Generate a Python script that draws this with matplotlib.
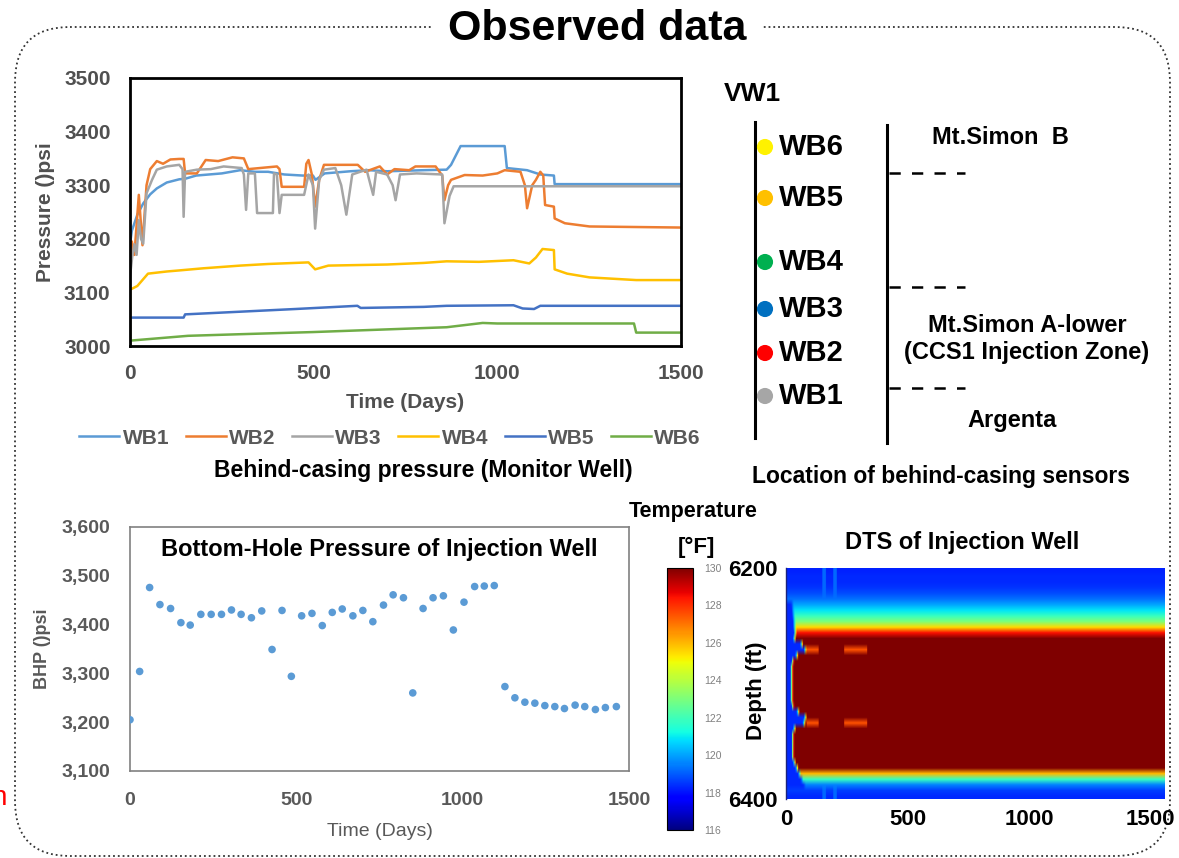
import matplotlib
matplotlib.use("Agg")
import matplotlib.pyplot as plt
import numpy as np
from matplotlib.patches import FancyBboxPatch
from matplotlib.ticker import StrMethodFormatter

plt.rcParams["font.family"] = ["Liberation Sans", "DejaVu Sans"]

# ---------------- behind-casing pressure (monitor well) ----------------
wb1_days = [0, 5, 20, 36, 55, 73, 100, 134, 150, 180, 250, 300, 340, 376, 420, 470, 498, 505,
            530, 600, 650, 700, 800, 862, 874, 900, 1020, 1026, 1081, 1117, 1154, 1156, 1500]
wb1_psi = [3190, 3215, 3245, 3266, 3283, 3294, 3305, 3311, 3312, 3318, 3322, 3328, 3325, 3325,
           3320, 3318, 3318, 3310, 3322, 3326, 3328, 3326, 3328, 3329, 3338, 3373, 3373, 3332,
           3328, 3320, 3318, 3302, 3302]

wb2_days = [0, 5, 12, 24, 34, 45, 55, 73, 90, 110, 134, 146, 150, 182, 206, 240, 279, 310, 322,
            400, 407, 413, 474, 480, 486, 495, 504, 515, 528, 620, 640, 680, 700, 720, 760, 777,
            832, 850, 856, 866, 874, 911, 960, 1000, 1020, 1063, 1075, 1081, 1095, 1105, 1117,
            1125, 1130, 1154, 1156, 1184, 1251, 1500]
wb2_psi = [3150, 3195, 3170, 3282, 3188, 3300, 3330, 3345, 3340, 3348, 3349, 3349, 3322, 3322,
           3347, 3345, 3352, 3350, 3330, 3335, 3330, 3297, 3297, 3340, 3347, 3320, 3260, 3310,
           3338, 3338, 3325, 3335, 3320, 3330, 3328, 3335, 3335, 3318, 3272, 3300, 3310, 3319,
           3318, 3322, 3328, 3325, 3300, 3257, 3300, 3310, 3325, 3318, 3263, 3260, 3238, 3229,
           3223, 3221]

wb3_days = [0, 6, 12, 18, 24, 30, 36, 45, 60, 73, 100, 134, 143, 146, 150, 182, 220, 255, 304,
            310, 316, 322, 340, 346, 389, 392, 400, 407, 413, 474, 486, 498, 504, 515, 528, 559,
            575, 589, 605, 644, 655, 662, 670, 700, 715, 723, 735, 780, 850, 856, 870, 881, 1500]
wb3_psi = [3130, 3166, 3190, 3170, 3235, 3200, 3191, 3285, 3310, 3329, 3335, 3338, 3330, 3241,
           3325, 3329, 3330, 3335, 3332, 3320, 3254, 3322, 3322, 3248, 3248, 3322, 3320, 3248,
           3282, 3282, 3320, 3300, 3219, 3310, 3329, 3332, 3300, 3245, 3320, 3329, 3300, 3282,
           3325, 3320, 3300, 3272, 3320, 3322, 3320, 3229, 3280, 3298, 3298]

wb4_days = [0, 0, 20, 49, 100, 134, 200, 300, 376, 486, 504, 540, 619, 700, 800, 862, 950, 1044,
            1087, 1105, 1123, 1154, 1156, 1190, 1251, 1378, 1500]
wb4_psi = [3000, 3105, 3112, 3135, 3139, 3141, 3145, 3150, 3153, 3156, 3143, 3150, 3151, 3152,
           3155, 3158, 3157, 3160, 3154, 3165, 3181, 3179, 3143, 3135, 3128, 3123, 3123]

wb5_days = [0, 0, 146, 150, 300, 450, 619, 628, 800, 862, 1044, 1069, 1100, 1117, 1500]
wb5_psi = [3000, 3053, 3053, 3059, 3064, 3069, 3075, 3071, 3073, 3075, 3076, 3070, 3069, 3075, 3075]

wb6_days = [0, 0, 158, 300, 498, 700, 862, 960, 1000, 1372, 1378, 1500]
wb6_psi = [3000, 3010, 3019, 3022, 3026, 3031, 3035, 3043, 3042, 3042, 3025, 3025]

series_names = ["WB1", "WB2", "WB3", "WB4", "WB5", "WB6"]
series_colors = ["#5B9BD5", "#ED7D31", "#A5A5A5", "#FFC000", "#4472C4", "#70AD47"]

# ---------------- bottom-hole pressure of injection well ----------------
bhp_days = [0, 29, 59, 90, 122, 153, 181, 213, 244, 275, 305, 334, 365, 396, 427, 457, 485, 516,
            547, 578, 608, 638, 670, 700, 730, 762, 791, 822, 850, 881, 911, 942, 972, 1004,
            1036, 1065, 1095, 1127, 1157, 1187, 1217, 1247, 1277, 1306, 1338, 1367, 1399, 1429,
            1462]
bhp_psi = [3205, 3304, 3476, 3441, 3433, 3404, 3399, 3421, 3421, 3421, 3430, 3421, 3414, 3428,
           3349, 3429, 3294, 3418, 3423, 3398, 3425, 3432, 3418, 3429, 3406, 3440, 3461, 3455,
           3260, 3433, 3455, 3459, 3389, 3446, 3478, 3479, 3480, 3273, 3250, 3241, 3239, 3234,
           3232, 3228, 3235, 3232, 3226, 3230, 3232]

# ---------------- DTS of injection well ----------------
dts_depth = np.arange(6200, 6401, 5)
# late-time temperature profile (degF) per depth
dts_profile = [118.2, 118.3, 118.3, 118.5, 118.8, 119.3, 120.0, 120.9, 121.8, 123.0, 125.5, 128.5,
               131, 131, 131, 131, 131, 131, 131, 131, 131, 131, 131, 131, 131, 131, 131, 131,
               131, 131, 131, 131, 131, 131, 131, 130, 126, 121.8, 119.5, 118.6, 118.3]
# day at which each depth reaches its warm profile
dts_onset = [0, 0, 0, 0, 0, 0,
             30, 32, 35, 38, 40, 42,
             40, 70, 85, 50, 32,
             28, 28, 28, 28, 28, 28, 28,
             32, 55, 85, 80, 40,
             32, 32, 32, 32, 32,
             40, 50, 60, 70, 80,
             0, 0]
dts_background = 118.3
notch_depths = [6270, 6335]
notch_spans = [(85, 130), (240, 330)]
notch_temp = 127.5
streak_depths = [6200, 6205, 6210, 6215, 6220, 6395, 6400]
streak_spans = [(150, 160), (195, 205)]
streak_temp = 119.2

# sensor diagram
sensor_names = ["WB6", "WB5", "WB4", "WB3", "WB2", "WB1"]
sensor_colors = ["#FFF200", "#FFC000", "#00B050", "#0070C0", "#FF0000", "#A6A6A6"]
formations = ["Mt.Simon  B", "Mt.Simon A-lower\n(CCS1 Injection Zone)", "Argenta"]

W, H = 1179, 858
fig = plt.figure(figsize=(W / 100, H / 100), dpi=100)


def box(x0, y0, x1, y1):
    return [x0 / W, 1 - y1 / H, (x1 - x0) / W, (y1 - y0) / H]


# overlay in pixel coordinates for frame and free text
ov = fig.add_axes([0, 0, 1, 1])
ov.set_xlim(0, W)
ov.set_ylim(H, 0)
ov.axis("off")

frame = FancyBboxPatch((15, 27), 1155, 829, boxstyle="round,pad=0,rounding_size=55",
                       fill=False, ls=":", lw=1.3, ec="#333333", zorder=1)
ov.add_patch(frame)
ov.text(597, 29, "Observed data", ha="center", va="center", fontsize=31, fontweight="bold",
        zorder=3, bbox=dict(fc="white", ec="none", pad=11))

# ---- top-left: line chart ----
ax1 = fig.add_axes(box(130, 78, 681, 346))
all_days = [wb1_days, wb2_days, wb3_days, wb4_days, wb5_days, wb6_days]
all_psi = [wb1_psi, wb2_psi, wb3_psi, wb4_psi, wb5_psi, wb6_psi]
handles = []
for d, p, c, n in zip(all_days, all_psi, series_colors, series_names):
    ln, = ax1.plot(d, p, color=c, lw=1.8, label=n)
    handles.append(ln)
ax1.set_xlim(0, 1500)
ax1.set_ylim(3000, 3500)
ax1.set_xticks([0, 500, 1000, 1500])
ax1.set_yticks(np.arange(3000, 3501, 100))
ax1.tick_params(length=0, labelsize=15, labelcolor="#505050")
ax1.tick_params(axis="y", pad=14)
ax1.tick_params(axis="x", pad=13)
for lbl in ax1.get_xticklabels() + ax1.get_yticklabels():
    lbl.set_fontweight("bold")
for s in ax1.spines.values():
    s.set_color("black")
    s.set_linewidth(2)
ax1.set_xlabel("Time (Days)", fontsize=15, fontweight="bold", color="#505050")
ax1.set_ylabel("Pressure ()psi", fontsize=15, fontweight="bold", color="#505050")
ax1.xaxis.set_label_coords(0.5, -0.209)
ax1.xaxis.label.set_va("center")
ax1.yaxis.set_label_coords(-0.154, 0.5)
ax1.yaxis.label.set_va("center")

fig.legend(handles=handles, loc="center", bbox_to_anchor=(390 / W, 1 - 438 / H), ncol=6,
           frameon=False, prop={"size": 15, "weight": "bold"}, labelcolor="#595959",
           handlelength=1.92, handletextpad=0.15, columnspacing=0.8)
ov.text(423, 470, "Behind-casing pressure (Monitor Well)", ha="center", va="center",
        fontsize=16.5, fontweight="bold")

# ---- top-right: sensor diagram ----
ov.text(752, 94, "VW1", ha="center", va="center", fontsize=19, fontweight="bold")
ov.plot([755, 755], [122, 438], color="black", lw=2.2)
ov.plot([887, 887], [125, 443], color="black", lw=2.2)
sensor_y = [147, 198, 262, 309, 353, 396]
for name, col, y in zip(sensor_names, sensor_colors, sensor_y):
    ov.scatter([765], [y], s=135, color=col, zorder=4, edgecolors="none")
    ov.text(779, y, name, ha="left", va="center", fontsize=21, fontweight="bold")
for y in [173, 287, 388]:
    ov.plot([889, 965], [y, y], color="black", lw=1.8, ls=(0, (4.5, 4.5)))
ov.text(1000, 138, formations[0], ha="center", va="center", fontsize=17, fontweight="bold")
ov.text(1027, 339, formations[1], ha="center", va="center", fontsize=17, fontweight="bold",
        linespacing=1.25)
ov.text(1012, 420, formations[2], ha="center", va="center", fontsize=17, fontweight="bold")
ov.text(941, 477, "Location of behind-casing sensors", ha="center", va="center",
        fontsize=16.5, fontweight="bold")

# ---- bottom-left: BHP scatter ----
ax2 = fig.add_axes(box(130, 527, 629, 771))
ax2.scatter(bhp_days, bhp_psi, s=30, color="#5B9BD5", edgecolors="none", zorder=3)
ax2.set_xlim(0, 1500)
ax2.set_ylim(3100, 3600)
ax2.set_xticks([0, 500, 1000, 1500])
ax2.set_yticks(np.arange(3100, 3601, 100))
ax2.yaxis.set_major_formatter(StrMethodFormatter("{x:,.0f}"))
ax2.tick_params(length=0, labelsize=14, labelcolor="#595959")
ax2.tick_params(axis="y", pad=14)
ax2.tick_params(axis="x", pad=15)
for lbl in ax2.get_xticklabels() + ax2.get_yticklabels():
    lbl.set_fontweight("bold")
for s in ax2.spines.values():
    s.set_color("#808080")
    s.set_linewidth(1.2)
ax2.text(0.5, 0.906, "Bottom-Hole Pressure of Injection Well", transform=ax2.transAxes,
         ha="center", va="center", fontsize=17, fontweight="bold")
ax2.set_xlabel("Time (Days)", fontsize=14, color="#595959")
ax2.set_ylabel("BHP ()psi", fontsize=13, fontweight="bold", color="#595959")
ax2.xaxis.set_label_coords(0.5, -0.25)
ax2.xaxis.label.set_va("center")
ax2.yaxis.set_label_coords(-0.176, 0.5)
ax2.yaxis.label.set_va("center")
ov.text(7, 798, "n", ha="right", va="center", fontsize=20, color="red")

# ---- bottom-right: DTS heatmap ----
days_grid = np.arange(0, 1561, 5)
prof = np.array(dts_profile)[:, None]
onset = np.array(dts_onset)[:, None]
ramp = np.clip((days_grid[None, :] - onset + 12) / 12.0, 0, 1)
ramp[onset[:, 0] == 0, :] = 1
temp = dts_background + (prof - dts_background) * ramp
for dep in notch_depths:
    i = int(np.where(dts_depth == dep)[0][0])
    for a, b in notch_spans:
        temp[i, (days_grid >= a) & (days_grid <= b)] = notch_temp
for dep in streak_depths:
    i = int(np.where(dts_depth == dep)[0][0])
    for a, b in streak_spans:
        temp[i, (days_grid >= a) & (days_grid <= b)] = streak_temp

ax3 = fig.add_axes(box(786, 568, 1165, 799))
im = ax3.imshow(temp, cmap="jet", vmin=116, vmax=130, aspect="auto", interpolation="bilinear",
                extent=[0, 1560, 6400, 6200])
ax3.set_xlim(0, 1560)
ax3.set_ylim(6400, 6200)
ax3.set_xticks([0, 500, 1000, 1500])
ax3.set_yticks([6200, 6400])
ax3.tick_params(length=0, labelsize=16)
ax3.tick_params(axis="y", pad=6)
ax3.tick_params(axis="x", pad=7)
for lbl in ax3.get_xticklabels() + ax3.get_yticklabels():
    lbl.set_fontweight("bold")
for side, s in ax3.spines.items():
    s.set_visible(side == "left")
    s.set_color("#1a237e")
    s.set_linewidth(1)
ax3.set_ylabel("Depth (ft)", fontsize=16, fontweight="bold")
ax3.yaxis.set_label_coords(-0.077, 0.47)
ax3.yaxis.label.set_va("center")

cax = fig.add_axes(box(667, 568, 693, 830))
cb = fig.colorbar(im, cax=cax, ticks=np.arange(116, 131, 2))
cb.ax.tick_params(labelsize=7.5, length=0, pad=8, labelcolor="#808080")
cb.outline.set_linewidth(0.8)

ov.text(693, 512, "Temperature", ha="center", va="center", fontsize=15.5, fontweight="bold")
ov.text(696, 547, "[°F]", ha="center", va="center", fontsize=16, fontweight="bold")
ov.text(962, 543, "DTS of Injection Well", ha="center", va="center", fontsize=17,
        fontweight="bold")

fig.savefig("out.png", dpi=100)
